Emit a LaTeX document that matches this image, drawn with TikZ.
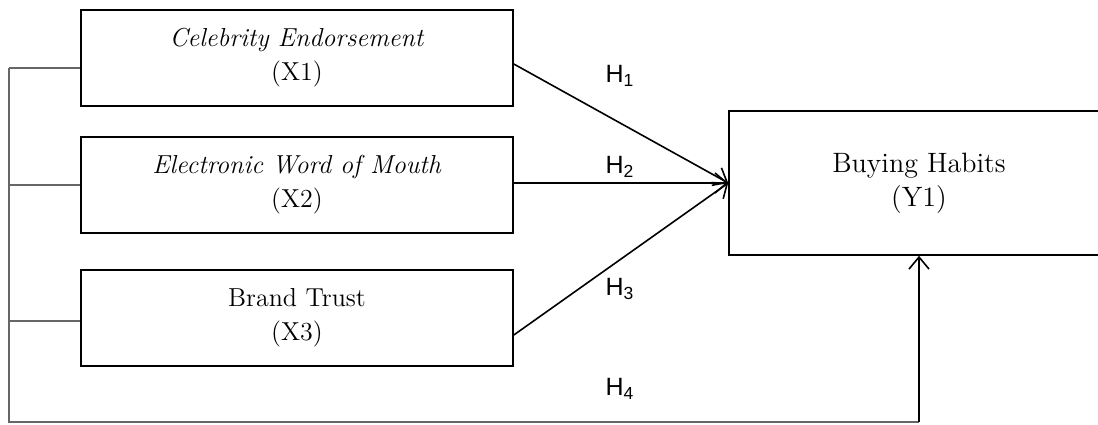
\documentclass[tikz,border=0pt]{standalone}
\usepackage{fontspec}
\newfontfamily\hfont{Liberation Sans}
\usetikzlibrary{arrows.meta}
\begin{document}
\begin{tikzpicture}[x=0.5pt, y=-0.5pt,
    varbox/.style={draw, line width=0.8pt, minimum width=216pt, minimum height=48pt, align=center, font=\fontsize{13}{17}\selectfont},
    hlabel/.style={font=\hfont\fontsize{12.5}{15}\selectfont},
    path/.style={line width=0.8pt, -{Straight Barb[length=6pt, width=10pt]}},
    frame/.style={gray!80!black, line width=0.6pt}]
        \useasboundingbox (0,0) rectangle (1098,424);
        \clip (0,0) rectangle (1098,424);
        % Independent variables
        \node[varbox] (x1) at (297,58) {\textit{Celebrity Endorsement}\\(X1)};
        \node[varbox] (x2) at (297,185) {\textit{Electronic Word of Mouth}\\(X2)};
        \node[varbox] (x3) at (297,318) {Brand Trust\\(X3)};
        % Dependent variable
        \node[varbox, minimum width=190pt, minimum height=72pt, font=\fontsize{14}{17}\selectfont] (y1) at (919,183) {Buying Habits\\(Y1)};
        % Hypotheses
        \node[hlabel] (h1) at (620,76) {H\textsubscript{1}};
        \node[hlabel] (h2) at (620,167) {H\textsubscript{2}};
        \node[hlabel] (h3) at (620,289) {H\textsubscript{3}};
        \node[hlabel] (h4) at (620,389) {H\textsubscript{4}};
        \draw[path] ([yshift=-3pt]x1.east) -- (y1.west);
        \draw[path] (x2.east |- y1.west) -- (y1.west);
        \draw[path] ([yshift=-8.5pt]x3.east) -- (y1.west);
        % Simultaneous path
        \coordinate (top) at (9,68);
        \coordinate (corner) at (9,422);
        \draw[frame] (top) -- (x1.west |- top);
        \draw[frame] (corner |- x2.west) -- (x2.west);
        \draw[frame] (corner |- 0,321) -- (x3.west |- 0,321);
        \draw[frame] (top) -- (corner) -- (y1.south |- corner);
        \draw[path] (y1.south |- corner) -- (y1.south);
\end{tikzpicture}
\end{document}
